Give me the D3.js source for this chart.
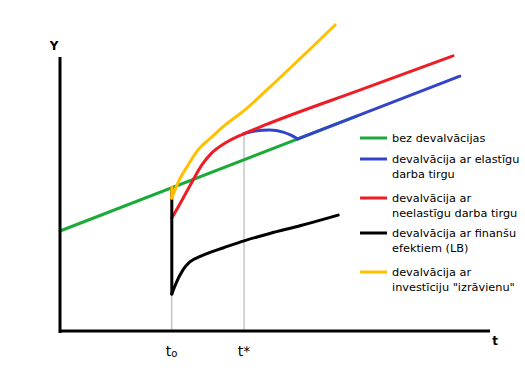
<!DOCTYPE html>
<html lang="lv">
<head>
<meta charset="utf-8">
<script src="https://d3js.org/d3.v7.min.js"></script>
<style>
  body { margin: 0; background: #fff; }
  svg { display: block; }
  text { font-family: "DejaVu Sans", Verdana, sans-serif; }
</style>
</head>
<body>
<svg width="525" height="368"></svg>
<script>
// time points
var t0 = 26, tStar = 42.8;

// series: [t, Y]
var green = [[0, 36.5], [69, 78.4]];
var red = [[26, 41.2], [28.4, 47.8], [30.7, 54.4], [33.0, 60.6], [35.3, 65.0], [38.4, 68.6],
           [42.6, 71.9], [47.7, 75.2], [70, 88.1], [91.4, 100.4]];
var blueBump = [[42.6, 71.9], [45.3, 73.0], [48.8, 73.4], [51.9, 72.6], [53.7, 71.5], [55.3, 70.1]];
var blueTail = [[55.3, 70.1], [93, 93.0]];
var yellowDrop = [[26, 52.6], [26, 48.5]];
var yellow = [[26, 48.5], [27.4, 54.0], [29.8, 60.6], [32.1, 66.1], [35.3, 70.8], [38.4, 75.2],
              [43.0, 80.7], [48.1, 88], [64, 111.7]];
var blackDrop = [[26, 52.3], [26, 13.5]];
var black = [[26, 13.5], [26.7, 16.4], [28.6, 22.3], [30.2, 25.2], [32.6, 27.2], [34.9, 28.7],
             [37.9, 30.3], [42.8, 32.9], [48.8, 35.6], [55.8, 38.4], [64.7, 42.3]];

var legendLabels = [
  ["bez devalvācijas"],
  ["devalvācija ar elastīgu", "darba tirgu"],
  ["devalvācija ar", "neelastīgu darba tirgu"],
  ["devalvācija ar finanšu", "efektiem (LB)"],
  ["devalvācija ar", "investīciju \"izrāvienu\""]
];
var legendColors = ["#1aaa3a", "#3344cc", "#ee1c24", "#000000", "#ffc000"];

var svg = d3.select("svg");

var x = d3.scaleLinear().domain([0, 100]).range([60, 490]);
var y = d3.scaleLinear().domain([0, 100]).range([331, 57]);

var line = d3.line()
  .x(function (d) { return x(d[0]); })
  .y(function (d) { return y(d[1]); })
  .curve(d3.curveMonotoneX);
var straight = d3.line()
  .x(function (d) { return x(d[0]); })
  .y(function (d) { return y(d[1]); });

// guide lines at t0 and t*
svg.append("line")
  .attr("x1", x(t0)).attr("x2", x(t0))
  .attr("y1", y(52.3)).attr("y2", y(0))
  .attr("stroke", "#aaaaaa").attr("stroke-width", 1);
svg.append("line")
  .attr("x1", x(tStar)).attr("x2", x(tStar))
  .attr("y1", y(71.9)).attr("y2", y(0))
  .attr("stroke", "#aaaaaa").attr("stroke-width", 1);

function draw(data, color, gen) {
  svg.append("path")
    .attr("d", gen(data))
    .attr("fill", "none")
    .attr("stroke", color)
    .attr("stroke-width", 3)
    .attr("stroke-linejoin", "round")
    .attr("stroke-linecap", "round");
}

draw(green, legendColors[0], straight);
draw(blueBump, legendColors[1], line);
draw(blueTail, legendColors[1], straight);
draw(red, legendColors[2], line);
draw(blackDrop, legendColors[3], straight);
draw(black, legendColors[3], line);
draw(yellowDrop, legendColors[4], straight);
draw(yellow, legendColors[4], line);

// axes
svg.append("line")
  .attr("x1", x(0)).attr("x2", x(0))
  .attr("y1", y(100)).attr("y2", y(0) + 2)
  .attr("stroke", "#000").attr("stroke-width", 3);
svg.append("line")
  .attr("x1", x(0) - 1).attr("x2", x(100))
  .attr("y1", y(0)).attr("y2", y(0))
  .attr("stroke", "#000").attr("stroke-width", 3);

svg.append("text").attr("x", x(0) - 6).attr("y", 50)
  .attr("font-size", 12).attr("font-weight", "bold").attr("text-anchor", "middle").text("Y");
svg.append("text").attr("x", x(100) + 5).attr("y", 345)
  .attr("font-size", 12).attr("font-weight", "bold").attr("text-anchor", "middle").text("t");

var t0Label = svg.append("text").attr("x", x(t0) - 6).attr("y", 356).attr("font-size", 14);
t0Label.append("tspan").text("t");
t0Label.append("tspan").attr("font-size", 10).attr("dy", 1).text("o");
svg.append("text").attr("x", x(tStar)).attr("y", 356).attr("font-size", 14)
  .attr("text-anchor", "middle").text("t*");

// legend
var rowY = [138, 159, 198, 233, 272];
var legend = svg.selectAll(".leg").data(legendLabels).enter().append("g")
  .attr("class", "leg")
  .attr("transform", function (d, i) { return "translate(360," + rowY[i] + ")"; });
legend.append("line")
  .attr("x1", 0).attr("x2", 27).attr("y1", 0).attr("y2", 0)
  .attr("stroke", function (d, i) { return legendColors[i]; })
  .attr("stroke-width", 3);
legend.each(function (d) {
  var t = d3.select(this).append("text").attr("x", 32).attr("y", 4).attr("font-size", 11.3);
  d.forEach(function (s, j) {
    t.append("tspan").attr("x", 32).attr("dy", j === 0 ? 0 : 15).text(s);
  });
});
</script>
</body>
</html>
